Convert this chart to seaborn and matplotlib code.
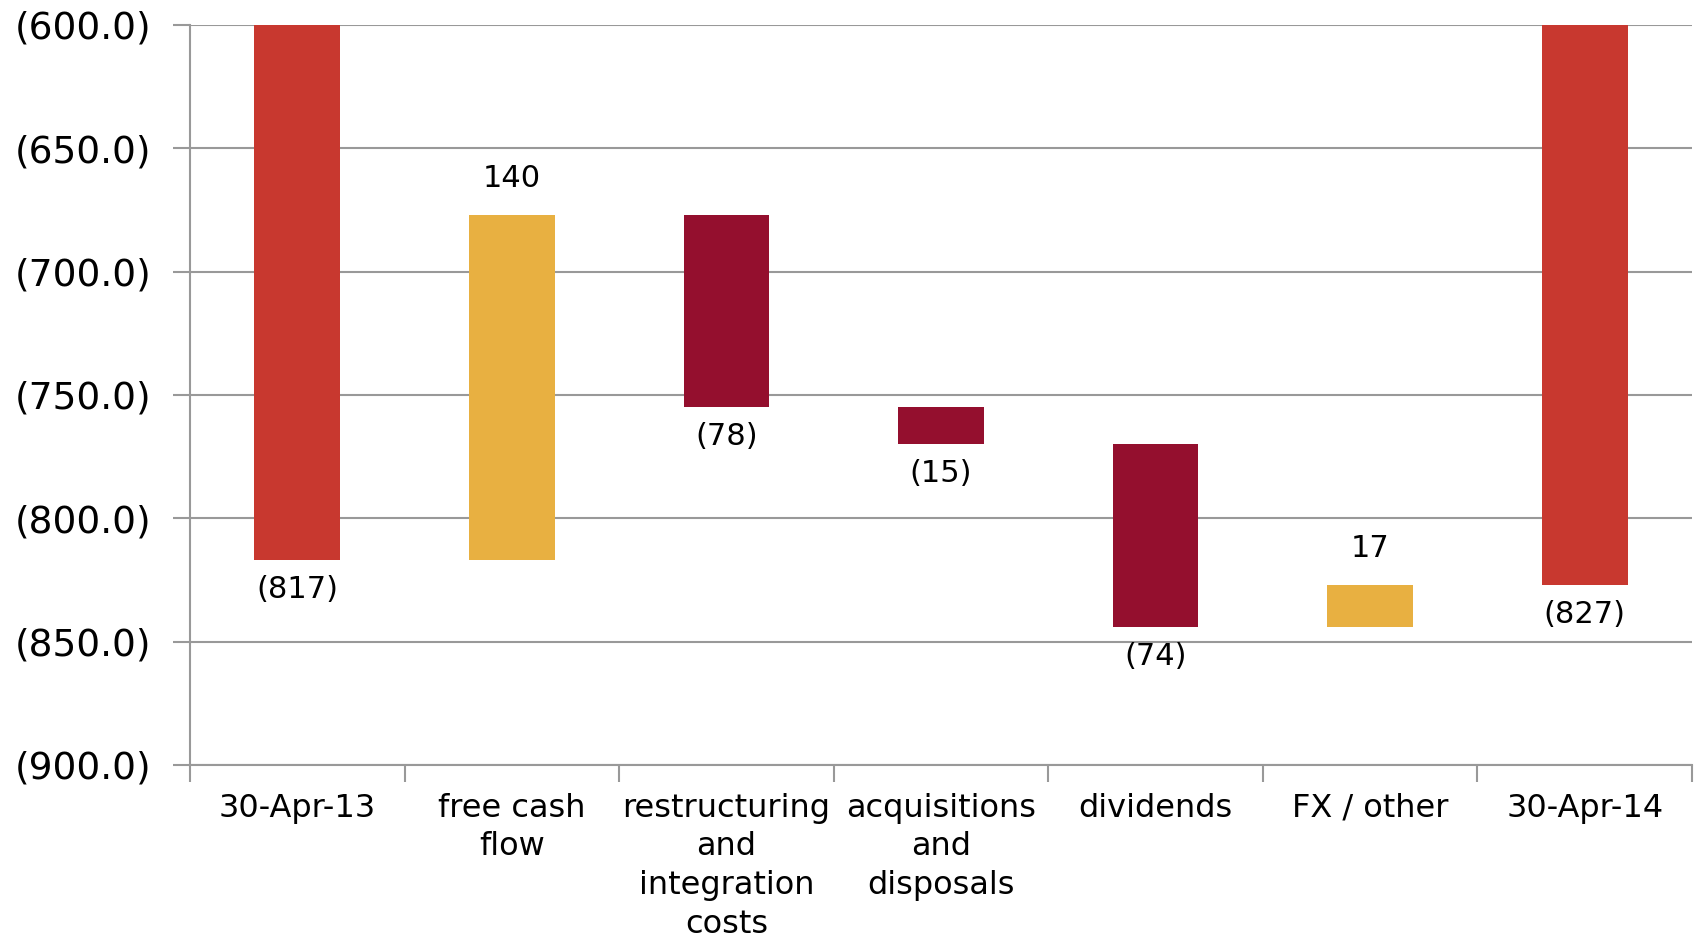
import numpy as np
import pandas as pd
import seaborn as sns
from matplotlib import pyplot as plt
from matplotlib.ticker import FuncFormatter, FixedLocator

categories = ['30-Apr-13', 'free cash\nflow', 'restructuring\nand\nintegration\ncosts',
              'acquisitions\nand\ndisposals', 'dividends', 'FX / other', '30-Apr-14']
changes = [-817, 140, -78, -15, -74, 17, -827]
is_total = [True, False, False, False, False, False, True]
labels = ['(817)', '140', '(78)', '(15)', '(74)', '17', '(827)']

RED = '#C8382F'
GOLD = '#E8B041'
DARK = '#940F2E'


def bar_colour(change, total):
    if total:
        return RED
    return GOLD if change > 0 else DARK


# waterfall: each step starts where the previous one ended, totals start at zero
bottoms = []
level = 0
for change, total in zip(changes, is_total):
    if total:
        bottoms.append(0)
        level = change
    else:
        bottoms.append(level)
        level += change

df = pd.DataFrame({'category': categories, 'change': changes, 'bottom': bottoms})
colours = [bar_colour(c, t) for c, t in zip(changes, is_total)]

sns.set_style('white')
plt.rcParams['font.family'] = ['DejaVu Sans']
plt.rcParams['text.color'] = 'black'
plt.rcParams['xtick.color'] = 'black'
plt.rcParams['ytick.color'] = 'black'

fig = plt.figure(figsize=(17.01, 9.41), dpi=100)
ax = fig.add_axes([190 / 1701, 1 - 765 / 941, (1692 - 190) / 1701, (765 - 25) / 941])

sns.barplot(data=df, x='category', y='change', bottom=df['bottom'].values,
            color=RED, saturation=1, facecolor=colours, edgecolor='none',
            width=0.4, errorbar=None, ax=ax)

ax.set_ylim(-900, -600)
ax.set_xlim(-0.5, 6.5)
ax.set_yticks(np.arange(-900, -599, 50))
ax.yaxis.set_major_formatter(FuncFormatter(lambda v, p: '(%.1f)' % abs(v)))
ax.grid(axis='y', color='#999999', linewidth=1.5)
ax.set_axisbelow(True)

for side in ['top', 'right']:
    ax.spines[side].set_visible(False)
for side in ['left', 'bottom']:
    ax.spines[side].set_color('#999999')
    ax.spines[side].set_linewidth(1.5)

ax.tick_params(axis='y', length=12, width=1.5, color='#999999', labelcolor='black',
               pad=16, labelsize=27, left=True)
ax.tick_params(axis='x', which='major', length=0, pad=20, labelsize=23, labelcolor='black')
ax.xaxis.set_minor_locator(FixedLocator(np.arange(-0.5, 7, 1)))
ax.tick_params(axis='x', which='minor', length=12, width=1.5, color='#999999', bottom=True)
ax.set_xticks(range(len(categories)))
ax.set_xticklabels(categories, linespacing=1.32)
ax.set_xlabel('')
ax.set_ylabel('')

for i, (change, bottom, text) in enumerate(zip(changes, bottoms, labels)):
    end = bottom + change
    if change > 0:
        ax.annotate(text, (i, end), xytext=(0, 26), textcoords='offset points',
                    ha='center', va='center', fontsize=22, color='black')
    else:
        ax.annotate(text, (i, end), xytext=(0, -21), textcoords='offset points',
                    ha='center', va='center', fontsize=22, color='black')

plt.savefig('out.png', dpi=100)
